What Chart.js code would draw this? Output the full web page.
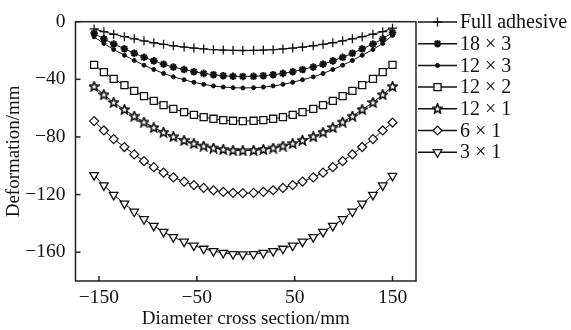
<!DOCTYPE html>
<html>
<head>
<meta charset="utf-8">
<script src="https://cdn.jsdelivr.net/npm/chart.js@4/dist/chart.umd.min.js"></script>
<style>
  html, body { margin: 0; padding: 0; background: #fff; }
  #wrap { width: 571px; height: 330px; }
</style>
</head>
<body>
<div id="wrap"><canvas id="chart"></canvas></div>
<script>
// Data
const xValues = [-155, -145, -135, -124, -114, -104, -94, -84, -74, -63, -53, -43, -33, -23, -13, -3,
                 8, 18, 28, 38, 48, 58, 69, 79, 89, 99, 109, 119, 130, 140, 150];

const fullAdhesive = [-5, -6.9, -8.7, -10.4, -11.9, -13.3, -14.6, -15.7, -16.7, -17.6, -18.3, -18.9, -19.4, -19.7, -19.9, -20,
                      -19.9, -19.7, -19.4, -18.9, -18.3, -17.6, -16.7, -15.7, -14.6, -13.3, -11.9, -10.4, -8.7, -6.9, -4.5];
const s18x3 = [-8, -11.9, -15.5, -18.8, -21.9, -24.7, -27.2, -29.5, -31.5, -33.2, -34.7, -35.9, -36.8, -37.5, -37.9, -38,
               -37.9, -37.5, -36.8, -35.9, -34.7, -33.2, -31.5, -29.5, -27.2, -24.7, -21.9, -18.8, -15.5, -11.9, -7.5];
const s12x3 = [-10.5, -15.1, -19.3, -23.3, -26.9, -30.2, -33.2, -35.9, -38.3, -40.3, -42.1, -43.5, -44.6, -45.4, -45.8, -46,
               -45.8, -45.4, -44.6, -43.5, -42.1, -40.3, -38.3, -35.9, -33.2, -30.2, -26.9, -23.3, -19.3, -15.1, -9.5];
const s12x2 = [-30, -35, -39.7, -44, -48, -51.7, -55, -57.9, -60.5, -62.8, -64.7, -66.2, -67.4, -68.3, -68.8, -69,
               -68.8, -68.3, -67.4, -66.2, -64.7, -62.8, -60.5, -57.9, -55, -51.7, -48, -44, -39.7, -35, -30];
const s12x1 = [-45, -50.7, -56.1, -61, -65.6, -69.7, -73.5, -76.8, -79.8, -82.4, -84.6, -86.3, -87.7, -88.7, -89.3, -89.5,
               -89.3, -88.7, -87.7, -86.3, -84.6, -82.4, -79.8, -76.8, -73.5, -69.7, -65.6, -61, -56.1, -50.7, -45];
const s6x1 = [-69, -75.5, -81.5, -87, -92.1, -96.8, -101, -104.8, -108.1, -111, -113.4, -115.4, -117, -118.1, -118.8, -119,
              -118.8, -118.1, -117, -115.4, -113.4, -111, -108.1, -104.8, -101, -96.8, -92.1, -87, -81.5, -75.5, -70];
const s3x1 = [-106.5, -113.6, -120.2, -126.3, -131.9, -137.1, -141.7, -145.9, -149.5, -152.7, -155.4, -157.6, -159.3, -160.5, -161.3, -161.5,
              -161.3, -160.5, -159.3, -157.6, -155.4, -152.7, -149.5, -145.9, -141.7, -137.1, -131.9, -126.3, -120.2, -113.6, -107];

const seriesNames = ['Full adhesive', '18 × 3', '12 × 3', '12 × 2', '12 × 1', '6 × 1', '3 × 1'];
const xTicks = [-150, -50, 50, 150];
const yTicks = [0, -40, -80, -120, -160];

const FONT = "'Liberation Serif', 'DejaVu Serif', serif";

// 5-point star marker
function makeStar() {
    const c = document.createElement('canvas');
    c.width = 11; c.height = 11;
    const g = c.getContext('2d');
    g.beginPath();
    for (let k = 0; k < 10; k++) {
        const r = k % 2 === 0 ? 5 : 2.2;
        const a = -Math.PI / 2 + k * Math.PI / 5;
        const px = 5.5 + r * Math.cos(a), py = 5.7 + r * Math.sin(a);
        if (k === 0) g.moveTo(px, py); else g.lineTo(px, py);
    }
    g.closePath();
    g.fillStyle = '#fff';
    g.fill();
    g.lineWidth = 1.6;
    g.strokeStyle = '#111';
    g.stroke();
    return c;
}
const starImg = makeStar();

function pts(arr) {
    return arr.map((v, i) => ({ x: xValues[i], y: v }));
}

const styles = [
    { pointStyle: 'cross', pointRadius: 4.5, pointBorderWidth: 1.3, pointBackgroundColor: '#111' },
    { pointStyle: 'star', pointRadius: 3.8, pointBorderWidth: 2, pointBackgroundColor: '#111' },
    { pointStyle: 'circle', pointRadius: 2, pointBorderWidth: 1, pointBackgroundColor: '#111' },
    { pointStyle: 'rect', pointRadius: 5, pointBorderWidth: 1.3, pointBackgroundColor: '#fff' },
    { pointStyle: starImg, pointRadius: 5, pointBorderWidth: 1, pointBackgroundColor: '#fff' },
    { pointStyle: 'rectRot', pointRadius: 4.5, pointBorderWidth: 1.2, pointBackgroundColor: '#fff' },
    { pointStyle: 'triangle', pointRadius: 5, pointBorderWidth: 1.3, pointBackgroundColor: '#fff', pointRotation: 180 }
];

const allSeries = [fullAdhesive, s18x3, s12x3, s12x2, s12x1, s6x1, s3x1];

const datasets = allSeries.map((s, i) => Object.assign({
    label: seriesNames[i],
    data: pts(s),
    borderColor: '#111',
    borderWidth: 1,
    pointBorderColor: '#111',
    fill: false,
    tension: 0
}, styles[i]));

// frame, inward ticks, and the legend on the right
const framePlugin = {
    id: 'frame',
    afterDraw(chart) {
        const ctx = chart.ctx;
        const a = chart.chartArea;
        const xs = chart.scales.x, ys = chart.scales.y;
        ctx.save();
        ctx.strokeStyle = '#222';
        ctx.lineWidth = 1.5;
        ctx.strokeRect(a.left, a.top, a.right - a.left, a.bottom - a.top);
        xTicks.forEach(v => {
            const px = xs.getPixelForValue(v);
            ctx.beginPath(); ctx.moveTo(px, a.bottom); ctx.lineTo(px, a.bottom - 5); ctx.stroke();
        });
        yTicks.forEach(v => {
            const py = ys.getPixelForValue(v);
            ctx.beginPath(); ctx.moveTo(a.left, py); ctx.lineTo(a.left + 5, py); ctx.stroke();
        });

        // legend
        const lx0 = a.right + 2, lx1 = a.right + 41;
        ctx.font = '20px ' + FONT;
        ctx.textBaseline = 'middle';
        chart.data.datasets.forEach((d, i) => {
            const y = 22 + i * 21.7;
            ctx.strokeStyle = '#111';
            ctx.lineWidth = 1.5;
            ctx.beginPath(); ctx.moveTo(lx0, y); ctx.lineTo(lx1, y); ctx.stroke();
            ctx.fillStyle = d.pointBackgroundColor;
            ctx.lineWidth = d.pointBorderWidth;
            Chart.helpers.drawPoint(ctx, {
                pointStyle: d.pointStyle,
                radius: d.pointRadius,
                rotation: d.pointRotation || 0,
                borderWidth: d.pointBorderWidth
            }, (lx0 + lx1) / 2, y);
            ctx.fillStyle = '#111';
            ctx.fillText(d.label, lx1 + 3, y + 1);
        });
        ctx.restore();
    }
};

new Chart(document.getElementById('chart'), {
    type: 'line',
    data: { datasets: datasets },
    options: {
        responsive: true,
        maintainAspectRatio: false,
        animation: false,
        layout: { padding: { top: 15, right: 155, left: 0, bottom: 0 } },
        plugins: { legend: { display: false }, tooltip: { enabled: false } },
        scales: {
            x: {
                type: 'linear',
                min: -174,
                max: 174,
                afterBuildTicks: s => { s.ticks = xTicks.map(v => ({ value: v })); },
                afterFit: s => { s.height = 49; },
                grid: { display: false, drawTicks: false },
                border: { display: false },
                ticks: {
                    padding: 5,
                    color: '#111',
                    font: { family: FONT, size: 19.5 },
                    maxRotation: 0,
                    callback: v => String(v).replace('-', '\u2212')
                },
                title: {
                    display: true,
                    text: 'Diameter cross section/mm',
                    color: '#111',
                    font: { family: FONT, size: 19 },
                    padding: { top: 0, bottom: 0 }
                }
            },
            y: {
                min: -180,
                max: 0,
                afterBuildTicks: s => { s.ticks = yTicks.map(v => ({ value: v })); },
                afterFit: s => { s.width = 75.5; },
                grid: { display: false, drawTicks: false },
                border: { display: false },
                ticks: {
                    padding: 10,
                    color: '#111',
                    font: { family: FONT, size: 19.5 },
                    callback: v => String(v).replace('-', '\u2212')
                },
                title: {
                    display: true,
                    text: 'Deformation/mm',
                    color: '#111',
                    font: { family: FONT, size: 19 },
                    padding: { top: 3, bottom: 0 }
                }
            }
        }
    },
    plugins: [framePlugin]
});
</script>
</body>
</html>
